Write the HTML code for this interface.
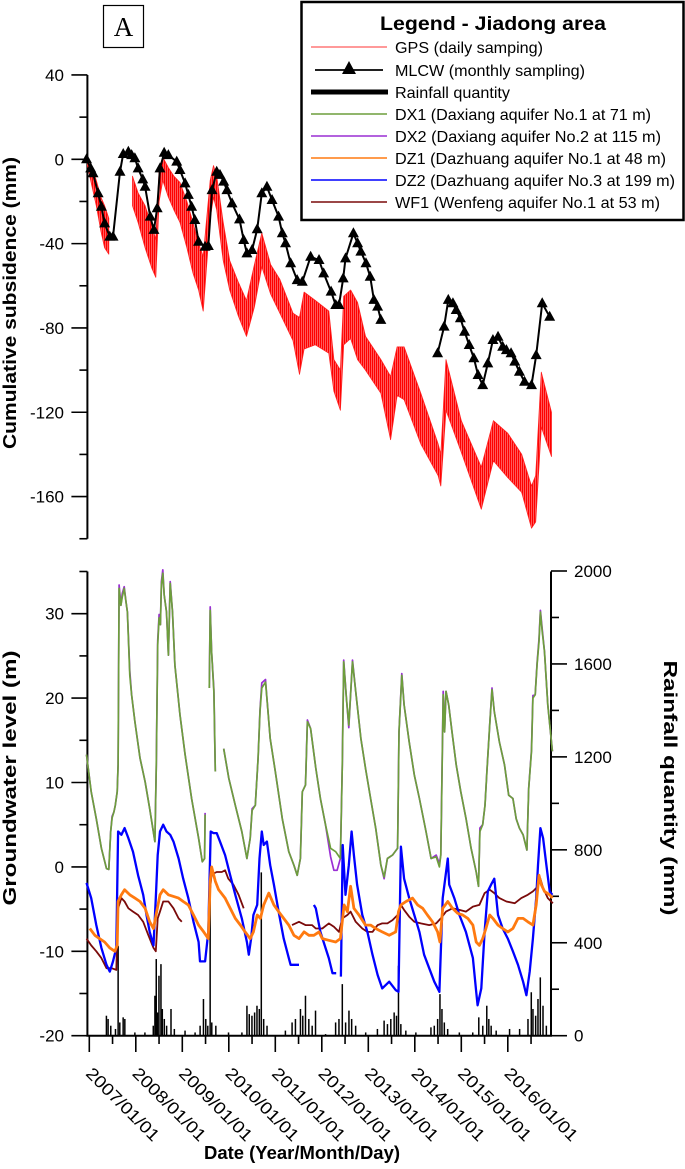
<!DOCTYPE html>
<html><head><meta charset="utf-8"><style>
html,body{margin:0;padding:0;background:#fff;}
svg{display:block;font-family:"Liberation Sans",Arial,sans-serif;}
</style></head><body>
<svg id="chart" width="685" height="1169" viewBox="0 0 685 1169" xmlns="http://www.w3.org/2000/svg">
<defs>
<pattern id="gpsNoise" patternUnits="userSpaceOnUse" width="2" height="10">
<rect x="0" y="0" width="2" height="10" fill="#ff7070"/>
<rect x="0" y="0" width="1.2" height="10" fill="#ff0000"/>
</pattern>
</defs>
<g>
<rect x="103.5" y="5.5" width="40" height="42" fill="#fff" stroke="#000" stroke-width="1.2"/>
<text x="123.5" y="36" text-anchor="middle" font-family="'Liberation Serif',serif" font-size="27">A</text>
</g>
<g id="top-axis"></g>
<g id="bot-axis"></g>
<g id="series"></g>
<text transform="translate(16,303) rotate(-90)" text-anchor="middle" font-weight="bold" font-size="18" textLength="292" lengthAdjust="spacingAndGlyphs">Cumulative subsidence (mm)</text>
<text transform="translate(16,778) rotate(-90)" text-anchor="middle" font-weight="bold" font-size="18" textLength="255" lengthAdjust="spacingAndGlyphs">Groundwater level (m)</text>
<text transform="translate(664,788) rotate(90)" text-anchor="middle" font-weight="bold" font-size="18" textLength="255" lengthAdjust="spacingAndGlyphs">Rainfall quantity (mm)</text>
<text x="302" y="1159" text-anchor="middle" font-weight="bold" font-size="18" textLength="196" lengthAdjust="spacingAndGlyphs">Date (Year/Month/Day)</text>
<g>
<rect x="301.5" y="2" width="382" height="218" fill="#fff" stroke="#000" stroke-width="2.5"/>
<text x="493" y="30" text-anchor="middle" font-weight="bold" font-size="19" textLength="226" lengthAdjust="spacingAndGlyphs">Legend - Jiadong area</text>
<g><line x1="311" y1="47" x2="387" y2="47" stroke="#f33" stroke-width="1"/><text x="395" y="53" font-size="16" textLength="148" lengthAdjust="spacingAndGlyphs">GPS (daily samping)</text></g>
<g><line x1="315" y1="70" x2="383" y2="70" stroke="#000" stroke-width="1.8"/><polygon points="349,61 356,74 342,74" fill="#000"/><text x="395" y="76" font-size="16" textLength="190" lengthAdjust="spacingAndGlyphs">MLCW (monthly sampling)</text></g>
<g><line x1="311" y1="92" x2="388" y2="92" stroke="#000" stroke-width="5"/><text x="395" y="98" font-size="16" textLength="115" lengthAdjust="spacingAndGlyphs">Rainfall quantity</text></g>
<g><line x1="311" y1="114" x2="387" y2="114" stroke="#6d9e3c" stroke-width="1.5"/><text x="395" y="120" font-size="16" textLength="256" lengthAdjust="spacingAndGlyphs">DX1 (Daxiang aquifer No.1 at 71 m)</text></g>
<g><line x1="311" y1="136" x2="387" y2="136" stroke="#9a2fd4" stroke-width="1.5"/><text x="395" y="142" font-size="16" textLength="266" lengthAdjust="spacingAndGlyphs">DX2 (Daxiang aquifer No.2 at 115 m)</text></g>
<g><line x1="311" y1="158" x2="387" y2="158" stroke="#ff7a10" stroke-width="1.5"/><text x="395" y="164" font-size="16" textLength="271" lengthAdjust="spacingAndGlyphs">DZ1 (Dazhuang aquifer No.1 at 48 m)</text></g>
<g><line x1="311" y1="180" x2="387" y2="180" stroke="#0000ff" stroke-width="1.5"/><text x="395" y="186" font-size="16" textLength="280" lengthAdjust="spacingAndGlyphs">DZ2 (Dazhuang aquifer No.3 at 199 m)</text></g>
<g><line x1="311" y1="202" x2="387" y2="202" stroke="#7a0a0a" stroke-width="1.5"/><text x="395" y="208" font-size="16" textLength="265" lengthAdjust="spacingAndGlyphs">WF1 (Wenfeng aquifer No.1 at 53 m)</text></g>
</g>
</svg>
<script>
// ---- data ----
const yearLabels = ["2007/01/01","2008/01/01","2009/01/01","2010/01/01","2011/01/01","2012/01/01","2013/01/01","2014/01/01","2015/01/01","2016/01/01"];
const topTicks = [40,0,-40,-80,-120,-160];
const leftTicks = [30,20,10,0,-10,-20];
const rightTicks = [2000,1600,1200,800,400,0];

const mlcwDates = [2006.94,2007.03,2007.08,2007.19,2007.26,2007.33,2007.44,2007.51,2007.66,2007.73,2007.84,2007.91,2007.98,2008.05,2008.15,2008.20,2008.31,2008.39,2008.46,2008.52,2008.61,2008.70,2008.88,2008.95,2009.06,2009.13,2009.20,2009.27,2009.35,2009.49,2009.56,2009.64,2009.74,2009.81,2009.89,2009.96,2010.07,2010.23,2010.32,2010.39,2010.50,2010.61,2010.71,2010.82,2010.93,2011.07,2011.15,2011.22,2011.33,2011.47,2011.58,2011.76,2011.94,2012.04,2012.20,2012.30,2012.37,2012.46,2012.51,2012.68,2012.77,2012.84,2012.95,2013.04,2013.12,2013.20,2013.27,null,2014.49,2014.63,2014.72,2014.82,2014.89,2014.98,2015.07,2015.17,2015.27,2015.36,2015.46,2015.57,2015.68,2015.79,2015.89,2015.97,2016.07,2016.15,2016.25,2016.36,2016.51,2016.61,2016.74,2016.90];
const mlcwValues = [0,-4.3,-6.6,-16.1,-22.5,-30.4,-36.7,-36.7,-5.9,2.5,3.6,2.0,0.5,-4.3,-9.5,-13.0,-27.2,-33.5,-23.2,-4.3,3.1,2.0,-1.1,-5.1,-11.4,-16.9,-22.5,-28.8,-39.1,-41.5,-41.1,-14.6,-5.9,-7.4,-10.6,-14.6,-20.9,-28.5,-38.3,-44.6,-43.0,-33.2,-16.1,-13.0,-19.3,-27.2,-35.1,-39.8,-49.3,-57.3,-58.1,-46.2,-47.8,-54.1,-62.8,-69.1,-69.1,-56.5,-47.0,-35.1,-39.8,-43.8,-49.3,-55.7,-66.7,-69.9,-76.2,null,-92.0,-79.4,-66.7,-68.3,-71.5,-75.4,-81.8,-88.1,-94.4,-102.3,-107.1,-96.8,-85.7,-84.2,-88.9,-90.5,-92.0,-96.0,-100.8,-105.5,-107.1,-92.9,-68.3,-74.7];

const gpsDates = [2006.96,2007.05,2007.15,2007.25,2007.33,2007.42,null,2007.93,2008.05,2008.20,2008.35,2008.43,2008.50,2008.58,2008.70,2008.82,2008.95,2009.10,2009.23,2009.35,2009.45,2009.60,2009.67,2009.74,2009.88,2010.02,2010.20,2010.38,2010.55,2010.71,2010.90,2011.10,2011.38,2011.52,2011.62,2011.86,2012.15,2012.26,2012.40,2012.47,2012.62,2012.77,2012.94,2013.27,2013.48,2013.62,2013.77,2014.13,2014.50,2014.56,2014.67,2015.00,2015.43,2015.69,2016.00,2016.30,2016.51,2016.60,2016.72,2016.94];
const gpsHigh = [0,-3,-10,-18,-22,-28,null,-8,-16,-22,-32,-38,-5,1,-4,-8,-11,-20,-30,-40,-46,-10,-3,-8,-30,-48,-58,-67,-50,-35,-50,-57,-73,-75,-63,-67,-72,-95,-100,-65,-62,-68,-84,-95,-103,-89,-89,-111,-135,-140,-95,-124,-146,-124,-130,-140,-155,-150,-101,-120];
const gpsLow = [-3,-12,-22,-34,-42,-45,null,-22,-30,-42,-52,-56,-20,-10,-18,-24,-30,-42,-54,-62,-72,-28,-18,-24,-48,-62,-74,-84,-70,-51,-64,-73,-86,-102,-90,-88,-92,-110,-119,-88,-85,-95,-100,-111,-133,-112,-114,-135,-150,-155,-119,-139,-166,-143,-151,-158,-175,-172,-127,-141];

const dx1Dates = [2006.94,2007.04,2007.15,2007.26,2007.37,2007.42,2007.46,2007.49,2007.53,2007.56,2007.60,2007.62,2007.64,2007.68,2007.71,2007.75,2007.79,2007.82,2007.87,2007.91,2007.98,2008.09,2008.20,2008.30,2008.41,2008.44,2008.47,2008.50,2008.53,2008.55,2008.58,2008.61,2008.66,2008.70,2008.74,2008.79,2008.84,2008.95,2009.06,2009.20,2009.35,2009.43,2009.48,2009.49,null,2009.58,2009.60,2009.63,2009.68,2009.71,null,2009.89,2010.00,2010.14,2010.28,2010.39,2010.46,2010.50,2010.57,2010.63,2010.67,2010.71,2010.79,2010.82,2010.89,2011.00,2011.15,2011.29,2011.40,2011.47,2011.54,2011.58,2011.65,2011.69,2011.76,2011.87,2011.97,2012.08,2012.19,2012.30,2012.40,2012.44,2012.47,2012.53,2012.58,2012.66,2012.73,2012.84,2012.94,2013.05,2013.16,2013.27,2013.34,2013.41,2013.52,2013.63,2013.66,2013.72,2013.77,2013.88,2013.99,2014.10,2014.24,2014.35,2014.46,2014.53,2014.56,2014.61,2014.64,2014.67,2014.73,2014.80,2014.89,2014.99,2015.10,2015.21,2015.32,2015.37,2015.40,2015.46,2015.51,2015.55,2015.61,2015.66,2015.71,2015.82,2015.93,2016.02,2016.11,2016.18,2016.25,2016.33,2016.41,2016.45,2016.51,2016.54,2016.59,2016.63,2016.67,2016.70,2016.74,2016.79,2016.86,2016.96];
const dx1Values = [13.3,8.9,5.7,2.2,-0.2,-0.3,4.2,5.8,6.5,7.3,8.9,12.1,33.0,31.0,32.0,33.0,31.4,30.2,22.7,20.4,17.2,12.9,10.1,6.9,3.0,12.1,26.3,29.5,28.7,33.4,34.8,32.2,30.2,25.1,33.6,30.2,23.9,18.0,13.3,8.1,3.4,0.6,1.0,6.2,null,21.2,30.4,25.5,20.7,11.3,null,14.0,10.5,7.3,4.2,1.0,3.4,6.7,7.3,12.9,18.4,21.2,21.9,20.0,15.2,11.3,5.7,1.8,0.2,-1.0,1.0,8.9,9.7,17.2,16.4,11.7,8.1,5.0,2.2,1.8,1.0,12.1,24.3,20.0,16.8,24.3,20.8,15.2,11.7,8.1,4.6,0.2,-1.2,1.0,1.4,2.2,16.0,22.7,19.2,14.8,10.9,8.1,4.2,1.0,1.2,0.0,1.4,20.4,16.0,20.8,19.2,16.0,12.1,8.9,5.8,2.2,-0.6,-2.3,4.2,5.0,7.3,11.3,16.8,21.0,18.4,14.8,12.1,8.5,8.1,5.7,4.6,3.8,2.0,9.3,13.7,20.0,20.4,24.0,26.7,30.2,27.9,25.5,19.2,13.7];
const dx2Dates = [2006.94,2007.04,2007.15,2007.26,2007.37,2007.42,2007.46,2007.49,2007.53,2007.56,2007.60,2007.62,2007.64,2007.68,2007.71,2007.75,2007.79,2007.82,2007.87,2007.91,2007.98,2008.09,2008.20,2008.30,2008.41,2008.44,2008.47,2008.50,2008.53,2008.55,2008.58,2008.61,2008.66,2008.70,2008.74,2008.79,2008.84,2008.95,2009.06,2009.20,2009.35,2009.43,2009.48,2009.49,null,2009.58,2009.60,2009.63,2009.68,2009.71,null,2009.89,2010.00,2010.14,2010.28,2010.39,2010.46,2010.50,2010.57,2010.63,2010.67,2010.71,2010.79,2010.82,2010.89,2011.00,2011.15,2011.29,2011.40,2011.47,2011.54,2011.58,2011.65,2011.69,2011.76,2011.87,2011.97,2012.08,2012.19,2012.26,2012.33,2012.40,2012.44,2012.47,2012.53,2012.58,2012.66,2012.73,2012.84,2012.94,2013.05,2013.16,2013.27,2013.34,2013.41,2013.52,2013.63,2013.66,2013.72,2013.77,2013.88,2013.99,2014.10,2014.24,2014.35,2014.46,2014.53,2014.56,2014.61,2014.64,2014.67,2014.73,2014.80,2014.89,2014.99,2015.10,2015.21,2015.32,2015.37,2015.40,2015.46,2015.51,2015.55,2015.61,2015.66,2015.71,2015.82,2015.93,2016.02,2016.11,2016.18,2016.25,2016.33,2016.41,2016.45,2016.51,2016.54,2016.59,2016.63,2016.67,2016.70,2016.74,2016.79,2016.86,2016.96];
const dx2Values = [13.3,8.9,5.7,2.2,-0.2,-0.3,4.2,6.0,6.5,7.3,8.9,12.1,33.4,31.0,32.4,33.2,31.4,30.2,23.2,20.4,17.2,12.9,10.1,6.9,3.0,12.1,26.8,29.9,28.7,33.8,35.2,32.2,30.2,25.1,33.8,30.2,23.9,18.0,13.3,8.1,3.4,0.6,1.0,6.4,null,21.2,30.8,25.5,21.0,11.3,null,14.0,10.5,7.3,4.2,1.0,3.4,6.9,7.3,12.9,18.6,21.8,22.2,20.0,15.2,11.3,5.7,1.8,0.2,-1.0,1.0,8.9,9.7,17.4,16.4,11.7,8.1,5.0,1.2,-0.4,-0.4,1.0,12.1,24.5,20.0,16.5,24.5,20.8,15.2,11.7,8.1,4.6,0.2,-1.4,1.0,1.4,2.2,16.0,22.9,19.2,14.8,10.9,8.1,4.2,1.0,1.4,0.4,1.4,20.8,16.0,20.8,19.2,16.0,12.1,8.9,5.8,2.2,-0.6,-2.3,4.6,5.0,7.3,11.3,16.8,21.2,18.4,14.8,12.1,8.5,8.1,5.7,4.6,3.8,2.0,9.3,13.9,20.3,20.4,24.2,27.0,30.4,28.2,25.5,19.2,13.7];

const dz2Dates = [2006.94,2007.04,2007.15,2007.26,2007.37,2007.44,2007.51,2007.58,2007.62,2007.69,2007.76,2007.84,2007.94,2008.05,2008.16,2008.23,2008.30,2008.38,2008.43,2008.47,2008.52,2008.59,2008.66,2008.74,2008.81,2008.92,2009.02,2009.13,2009.24,2009.35,2009.38,2009.49,2009.56,2009.61,2009.67,2009.74,2009.81,2009.92,2010.03,2010.14,2010.28,2010.39,2010.43,2010.48,2010.53,2010.61,2010.66,2010.71,2010.75,2010.82,2010.89,2010.97,2011.07,2011.18,2011.29,2011.33,2011.51,null,2011.83,2011.87,2011.97,2012.08,2012.15,2012.23,2012.31,null,2012.41,2012.45,2012.51,2012.58,2012.64,2012.69,2012.76,2012.87,2012.98,2013.09,2013.20,2013.30,2013.45,2013.59,2013.65,2013.70,2013.77,2013.88,2013.99,2014.10,2014.20,2014.31,2014.42,2014.53,2014.60,2014.71,2014.74,2014.85,2014.96,2015.10,2015.25,2015.32,2015.35,2015.43,2015.50,2015.57,2015.64,2015.71,2015.79,2015.89,2016.00,2016.11,2016.22,2016.33,2016.40,2016.47,2016.54,2016.61,2016.65,2016.70,2016.76,2016.83,2016.90,2016.96];
const dz2Values = [-1.9,-3.7,-6.9,-9.6,-11.6,-12.4,-11.2,-9.6,4.2,3.8,4.6,3.4,1.8,-1.0,-3.3,-5.7,-7.7,-9.3,-3.7,1.4,4.2,5.0,4.2,3.8,3.0,1.0,-1.4,-3.7,-6.5,-8.9,-11.2,-11.2,-7.7,4.2,4.0,4.0,3.0,1.4,-1.0,-3.3,-6.1,-8.9,-10.4,-8.5,-5.7,-4.5,1.0,4.2,2.6,3.0,0.2,-2.1,-5.3,-8.5,-10.8,-11.6,-11.6,null,-4.5,-4.9,-7.7,-9.6,-10.8,-12.6,-12.6,null,-13.0,2.6,-3.3,0.2,4.2,1.4,-2.1,-5.7,-7.7,-10.4,-12.8,-14.4,-13.6,-14.6,-14.8,2.4,-1.4,-3.7,-5.7,-7.7,-10.4,-12.0,-13.6,-14.8,-3.7,1.0,-2.1,-3.7,-5.7,-7.7,-10.8,-14.8,-16.4,-14.4,-7.7,-2.9,-2.1,-1.4,-5.7,-7.3,-8.5,-10.0,-11.6,-13.6,-15.2,-12.4,-8.5,-3.7,0.2,4.6,3.4,0.2,-2.9,-3.3];

const dz1Dates = [2007.01,2007.12,2007.22,2007.33,2007.44,2007.55,2007.60,2007.62,2007.69,2007.76,2007.87,2007.98,2008.09,2008.20,2008.30,2008.38,2008.45,2008.52,2008.59,2008.70,2008.81,2008.92,2009.02,2009.13,2009.24,2009.35,2009.46,2009.56,2009.60,2009.63,2009.71,2009.78,2009.92,2010.03,2010.14,2010.25,2010.35,2010.46,2010.53,2010.61,2010.68,2010.75,2010.86,2010.97,2011.07,2011.18,2011.29,2011.40,2011.51,2011.62,2011.72,2011.83,2011.94,2012.01,2012.15,2012.30,2012.40,2012.48,2012.55,2012.62,2012.69,2012.80,2012.94,2013.05,2013.16,2013.30,2013.45,2013.59,2013.65,2013.70,2013.81,2013.95,2014.06,2014.17,2014.27,2014.38,2014.49,2014.54,2014.60,2014.71,2014.81,2014.92,2015.03,2015.14,2015.25,2015.32,2015.39,2015.46,2015.53,2015.61,2015.68,2015.79,2015.89,2016.00,2016.11,2016.22,2016.33,2016.43,2016.54,2016.61,2016.67,2016.72,2016.79,2016.90,2016.96];
const dz1Values = [-7.3,-8.1,-8.5,-8.9,-9.6,-10.0,-9.3,-4.1,-3.3,-2.7,-3.3,-3.7,-4.1,-4.9,-6.5,-7.3,-5.3,-3.3,-2.7,-3.3,-3.5,-3.7,-4.1,-4.5,-5.7,-6.9,-7.7,-8.5,-1.7,0.0,-1.7,-2.7,-3.7,-4.9,-6.1,-6.9,-7.7,-8.5,-7.7,-5.7,-6.1,-4.5,-3.1,-4.5,-5.3,-6.1,-6.9,-8.1,-8.5,-7.7,-8.1,-8.1,-7.7,-8.5,-8.7,-8.9,-8.5,-4.5,-5.3,-2.3,-4.9,-5.7,-6.9,-6.9,-7.3,-7.7,-8.1,-7.7,-5.3,-4.5,-4.1,-3.7,-4.5,-4.9,-5.7,-6.5,-7.7,-8.9,-4.9,-4.1,-4.9,-5.5,-5.7,-6.1,-6.9,-8.9,-9.3,-8.5,-7.3,-5.7,-6.1,-6.9,-7.3,-7.7,-7.3,-6.1,-6.1,-6.5,-6.9,-4.5,-1.0,-2.1,-2.9,-3.3,-3.7];

const wf1Dates = [2006.94,2007.04,2007.15,2007.26,2007.37,2007.48,2007.58,2007.62,2007.69,2007.76,2007.84,2007.94,2008.05,2008.16,2008.27,2008.38,2008.43,2008.47,2008.52,2008.59,2008.70,2008.81,2008.92,2008.99,null,2009.60,2009.63,2009.74,2009.85,2009.92,2009.99,2010.10,2010.21,2010.32,null,2011.36,2011.51,2011.65,2011.79,2011.87,2012.01,2012.15,2012.26,2012.37,2012.44,2012.55,2012.62,2012.73,2012.87,2012.98,2013.09,2013.20,2013.30,2013.41,2013.52,2013.63,2013.70,2013.77,2013.88,2013.99,2014.13,2014.31,2014.46,2014.56,2014.67,2014.81,2014.96,2015.10,2015.25,2015.39,2015.50,2015.61,2015.71,2015.82,2015.97,2016.15,2016.29,2016.43,2016.54,2016.65,2016.70,2016.76,2016.86,2016.97];
const wf1Values = [-8.5,-9.3,-10.0,-10.8,-12.0,-12.0,-12.2,-4.9,-3.7,-4.1,-4.9,-5.3,-5.7,-6.5,-8.1,-9.6,-10.0,-6.1,-5.3,-4.1,-4.1,-4.9,-6.1,-6.5,null,-2.5,-0.9,-0.6,-0.6,-0.4,-1.4,-2.1,-3.3,-4.9,null,-6.9,-6.5,-6.9,-6.9,-7.3,-7.3,-6.7,-7.1,-7.7,-6.1,-5.7,-5.3,-6.5,-7.3,-7.7,-7.7,-6.9,-6.7,-6.7,-6.3,-5.7,-4.5,-5.1,-5.9,-6.5,-6.7,-6.9,-6.7,-6.1,-5.3,-4.9,-5.1,-5.3,-4.7,-4.5,-3.1,-2.7,-3.1,-3.7,-4.1,-4.3,-3.7,-3.3,-2.9,-2.3,-1.4,-2.5,-3.7,-4.3];

const rainDates = [2007.368,2007.404,2007.462,2007.563,2007.620,2007.656,2007.728,2007.764,2007.980,2008.196,2008.376,2008.411,2008.440,2008.469,2008.498,2008.541,2008.570,2008.613,2008.663,2008.757,2008.829,2009.059,2009.275,2009.383,2009.455,2009.505,2009.548,2009.599,2009.634,2009.721,2009.994,2010.282,2010.390,2010.440,2010.498,2010.555,2010.606,2010.656,2010.699,2010.750,2010.822,2011.217,2011.361,2011.433,2011.541,2011.591,2011.649,2011.721,2011.793,2011.865,2012.081,2012.297,2012.369,2012.441,2012.512,2012.584,2012.642,2012.728,2012.944,2013.196,2013.340,2013.412,2013.484,2013.556,2013.606,2013.649,2013.700,2013.807,2014.023,2014.347,2014.419,2014.491,2014.541,2014.584,2014.635,2014.707,2014.958,2015.246,2015.376,2015.462,2015.548,2015.592,2015.642,2015.750,2016.038,2016.254,2016.434,2016.505,2016.541,2016.599,2016.649,2016.699,2016.757,2016.829];
const rainValues = [86,72,43,29,387,57,79,72,14,14,43,172,330,100,258,308,115,72,43,115,29,22,14,43,158,72,43,732,57,43,14,14,129,93,86,100,129,115,703,72,43,22,57,72,115,86,172,72,43,108,7,57,72,222,57,108,72,43,14,29,65,50,72,100,86,301,50,22,14,36,43,72,179,115,57,29,14,14,79,43,129,72,43,22,29,29,72,187,115,86,158,251,129,43];

// ---- scales ----
const X0 = 87.4, X1 = 551;
function xs(t){ return 89.3 + (t - 2007) * 46.5; }
function yTop(v){ return 159.3 - v * 2.108; }
function yBot(v){ return 866.9 - v * 8.44; }
function yRain(r){ return 1035.7 - r * 0.23235; }
const NS = "http://www.w3.org/2000/svg";
function mk(tag, attrs, parent){
  const e = document.createElementNS(NS, tag);
  for (const k in attrs) e.setAttribute(k, attrs[k]);
  parent.appendChild(e);
  return e;
}
function pathFrom(dates, vals, yf){
  let d = "", pen = false;
  for (let i = 0; i < dates.length; i++){
    if (dates[i] === null || vals[i] === null){ pen = false; continue; }
    d += (pen ? "L" : "M") + xs(dates[i]).toFixed(1) + "," + yf(vals[i]).toFixed(1);
    pen = true;
  }
  return d;
}
const topAx = document.getElementById("top-axis");
const botAx = document.getElementById("bot-axis");
const ser = document.getElementById("series");

// top axis
let l = mk("line", {x1:X0, y1:yTop(40), x2:X0, y2:yTop(-180), stroke:"#000", "stroke-width":2}, topAx);


for (let v = 40; v >= -180; v -= 20){
  const major = topTicks.indexOf(v) >= 0;
  const tk = mk("line", {x1:X0 - (major ? 16 : 8), y1:yTop(v), x2:X0, y2:yTop(v), stroke:"#000", "stroke-width":1.6}, topAx);
  
  
  if (major){
    const tx = mk("text", {x:64, y:yTop(v) + 6, "text-anchor":"end", "font-size":17}, topAx);
    tx.textContent = v;
    
    
  }
}
// bottom axes
const axL = mk("path", {d:"M"+X0+","+yBot(35)+"V"+yBot(-20)+"H"+X1+"V"+yBot(35), fill:"none", stroke:"#000", "stroke-width":2}, botAx);


for (let v = 35; v >= -20; v -= 5){
  const major = leftTicks.indexOf(v) >= 0;
  const tk = mk("line", {x1:X0 - (major ? 16 : 8), y1:yBot(v), x2:X0, y2:yBot(v), stroke:"#000", "stroke-width":1.6}, botAx);
  
  
  if (major){
    const tx = mk("text", {x:64, y:yBot(v) + 6, "text-anchor":"end", "font-size":17}, botAx);
    tx.textContent = v;
    
    
  }
}
for (let r = 0; r <= 2000; r += 200){
  const major = rightTicks.indexOf(r) >= 0;
  const tk = mk("line", {x1:X1, y1:yRain(r), x2:X1 + (major ? 16 : 8), y2:yRain(r), stroke:"#000", "stroke-width":1.6}, botAx);
  
  
  if (major){
    const tx = mk("text", {x:574, y:yRain(r) + 6, "font-size":17}, botAx);
    tx.textContent = r;
    
    
  }
}
for (let i = 0; i < yearLabels.length; i++){
  const x = xs(2007 + i);
  const tk = mk("line", {x1:x, y1:1035.7, x2:x, y2:1052, stroke:"#000", "stroke-width":1.6}, botAx);
  
  
  const xm = xs(2007.5 + i);
  if (xm < X1){
    const tm = mk("line", {x1:xm, y1:1035.7, x2:xm, y2:1044, stroke:"#000", "stroke-width":1.6}, botAx);
    
    
  }
  const tx = mk("text", {transform:"translate("+(x+4)+",1066) rotate(45)", "font-size":17, textLength:96, lengthAdjust:"spacingAndGlyphs", dy:"12"}, botAx);
  tx.textContent = yearLabels[i];
  
  
}

// rainfall bars
for (let i = 0; i < rainDates.length; i++){
  const b = mk("line", {x1:xs(rainDates[i]), y1:yRain(0), x2:xs(rainDates[i]), y2:yRain(rainValues[i]), stroke:"#000", "stroke-width":1.5}, ser);
  
  
}
// GPS band
let segs = [], cur = [];
for (let i = 0; i < gpsDates.length; i++){
  if (gpsDates[i] === null){ if (cur.length) segs.push(cur); cur = []; continue; }
  cur.push(i);
}
if (cur.length) segs.push(cur);
segs.forEach(s => {
  const up = s.map(i => xs(gpsDates[i]).toFixed(1) + "," + yTop(gpsHigh[i]).toFixed(1));
  const dn = s.slice().reverse().map(i => xs(gpsDates[i]).toFixed(1) + "," + yTop(gpsLow[i]).toFixed(1));
  const p = mk("polygon", {points: up.concat(dn).join(" "), fill:"url(#gpsNoise)", stroke:"#ff2020", "stroke-width":0.8, "stroke-linejoin":"round"}, ser);
  
  
});
// MLCW
const ml = mk("path", {d:pathFrom(mlcwDates, mlcwValues, yTop), fill:"none", stroke:"#000", "stroke-width":2}, ser);


for (let i = 0; i < mlcwDates.length; i++){
  if (mlcwDates[i] === null) continue;
  const x = xs(mlcwDates[i]), y = yTop(mlcwValues[i]);
  const tr = mk("polygon", {points:(x)+","+(y-6)+" "+(x+5.5)+","+(y+4)+" "+(x-5.5)+","+(y+4), fill:"#000"}, ser);
  
  
}
// groundwater series
const gw = [
  ["dx2-line", dx2Dates, dx2Values, "#9a2fd4", 1.7],
  ["dx1-line", dx1Dates, dx1Values, "#6d9e3c", 1.7],
  ["wf1-line", wf1Dates, wf1Values, "#7a0a0a", 1.8],
  ["dz2-line", dz2Dates, dz2Values, "#0000ff", 2.3],
  ["dz1-line", dz1Dates, dz1Values, "#ff7a10", 2.8]
];
gw.forEach(g => {
  const p = mk("path", {d:pathFrom(g[1], g[2], yBot), fill:"none", stroke:g[3], "stroke-width":g[4], "stroke-linejoin":"round"}, ser);
  
  
});
</script>
</body></html>
